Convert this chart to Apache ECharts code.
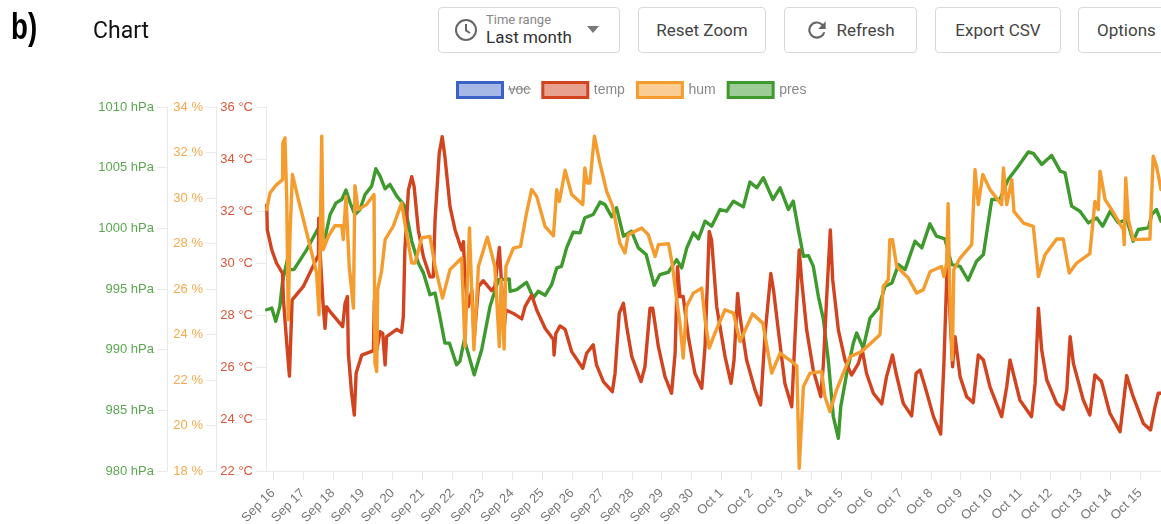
<!DOCTYPE html>
<html>
<head>
<meta charset="utf-8">
<title>Chart</title>
<script src="https://cdn.jsdelivr.net/npm/echarts@6/dist/echarts.min.js"></script>
<style>
  html,body{margin:0;padding:0;background:#fff;overflow:hidden}
  #wrap{position:relative;width:1161px;height:524px;font-family:Roboto,sans-serif;overflow:hidden}
  #chart{position:absolute;left:0;top:0;width:1161px;height:524px}
  .panel{position:absolute;left:0;top:0;z-index:2}
  .tag{position:absolute;left:11px;top:6px;font:bold 36px "Liberation Sans",sans-serif;color:#000;transform:scaleX(.77);transform-origin:left top}
  .title{position:absolute;left:93px;top:17px;font-size:23px;color:#111}
  .btn{position:absolute;top:7px;height:44px;border:1px solid #d8d8d8;border-radius:4px;box-sizing:content-box;color:#444;font-size:17px;line-height:44px;text-align:center;background:#fff}
  .btn svg{position:absolute}
  .small{position:absolute;left:47px;top:5px;font-size:13px;line-height:14px;color:#888}
  .big{position:absolute;left:47px;top:19px;font-size:17px;line-height:20px;color:#333}
</style>
</head>
<body>
<div id="wrap">
  <div id="chart"></div>
  <div class="panel">
    <div class="tag">b)</div>
    <div class="title">Chart</div>
    <div class="btn" style="left:438px;width:180px">
      <svg style="left:15px;top:10px" width="24" height="24" viewBox="0 0 24 24" fill="none" stroke="#666" stroke-width="2"><circle cx="12" cy="12" r="10"/><path d="M12 6v6.5l4 2.5"/></svg>
      <span class="small">Time range</span><span class="big">Last month</span>
      <svg style="left:148px;top:18px" width="12" height="7" viewBox="0 0 12 7"><path d="M0 0h12L6 7z" fill="#777"/></svg>
    </div>
    <div class="btn" style="left:638px;width:126px">Reset Zoom</div>
    <div class="btn" style="left:784px;width:131px;text-indent:30px">
      <svg style="left:19px;top:9px" width="26" height="26" viewBox="0 0 24 24"><path d="M17.6 6.4A8 8 0 1 0 19.7 14h-2.1a6 6 0 1 1-1.4-6.2L13 11h7V4z" fill="#666"/></svg>Refresh</div>
    <div class="btn" style="left:935px;width:124px">Export CSV</div>
    <div class="btn" style="left:1078px;width:110px;text-align:left;text-indent:18px">Options</div>
  </div>
</div>
<script>
// days counted from Sep 16
const dayLabels = ['Sep 16','Sep 17','Sep 18','Sep 19','Sep 20','Sep 21','Sep 22','Sep 23','Sep 24','Sep 25','Sep 26','Sep 27','Sep 28','Sep 29','Sep 30','Oct 1','Oct 2','Oct 3','Oct 4','Oct 5','Oct 6','Oct 7','Oct 8','Oct 9','Oct 10','Oct 11','Oct 12','Oct 13','Oct 14','Oct 15'];

const tempDays = [-0.21,-0.19,-0.04,0.12,0.32,0.35,0.46,0.55,0.60,0.64,1.01,1.52,1.53,1.59,1.68,1.74,1.79,1.96,2.33,2.41,2.49,2.52,2.63,2.72,2.78,2.97,3.36,3.39,3.47,3.58,3.67,3.75,3.80,4.14,4.30,4.36,4.41,4.53,4.64,4.72,4.86,5.03,5.25,5.36,5.42,5.56,5.66,5.75,5.92,6.09,6.31,6.37,6.42,6.53,6.65,6.73,6.87,7.03,7.31,7.42,7.57,7.65,7.73,7.79,8.04,8.32,8.43,8.65,8.82,9.10,9.38,9.40,9.46,9.60,9.77,9.99,10.36,10.49,10.71,10.82,11.05,11.35,11.44,11.58,11.72,11.83,12.0,12.31,12.44,12.61,12.70,12.89,13.11,13.33,13.45,13.53,13.61,13.72,13.89,14.11,14.34,14.45,14.59,14.67,14.84,15.12,15.32,15.42,15.54,15.62,15.84,16.12,16.31,16.46,16.65,16.74,16.90,17.12,17.35,17.46,17.60,17.68,17.85,18.07,18.32,18.41,18.52,18.64,18.72,18.91,19.13,19.35,19.58,19.71,19.85,20.08,20.36,20.52,20.72,20.84,21.08,21.36,21.51,21.64,21.81,22.09,22.33,22.44,22.56,22.64,22.73,22.81,22.98,23.20,23.42,23.59,23.76,23.98,24.37,24.54,24.65,24.76,24.98,25.37,25.49,25.60,25.71,25.88,26.21,26.43,26.55,26.66,26.77,27.10,27.32,27.49,27.71,27.99,28.33,28.55,28.77,29.11,29.35,29.50,29.61,29.70];
const tempValues = [32.23,31.27,30.50,29.99,29.60,28.58,26.91,25.65,27.29,28.58,29.09,30.31,31.72,30.12,28.32,27.49,28.32,28.06,27.55,28.45,28.71,26.53,24.99,24.15,25.76,26.46,26.63,28.58,26.65,27.36,27.29,26.08,27.17,27.45,27.33,27.94,30.50,32.81,33.32,32.94,31.27,30.24,29.47,29.47,31.65,34.22,34.86,34.09,32.17,31.27,30.50,30.82,29.35,28.32,28.96,27.10,29.09,29.32,28.94,29.09,30.60,29.09,27.49,28.19,28.06,27.85,28.32,28.77,28.19,27.49,27.06,26.46,27.29,27.58,27.45,26.59,25.95,26.53,26.85,26.08,25.44,25.05,25.76,28.06,28.45,27.55,26.40,25.44,26.01,28.26,28.26,26.78,25.63,24.99,26.53,29.86,28.71,28.71,27.17,25.76,25.18,26.78,31.21,30.88,28.32,26.40,25.37,26.27,28.83,27.94,26.27,25.12,24.54,27.29,29.60,28.96,27.42,25.37,24.47,27.17,30.50,29.35,27.42,25.88,24.86,26.14,28.71,31.27,29.35,27.42,26.27,25.69,26.14,26.65,25.76,24.99,24.58,25.63,26.46,25.76,24.60,24.12,25.76,25.88,25.24,24.09,23.42,26.14,30.37,28.06,26.01,27.17,25.63,24.86,24.63,26.46,26.27,25.24,24.09,25.24,26.27,25.76,24.73,24.09,25.37,28.26,26.65,25.50,24.60,24.37,25.12,27.17,26.14,24.73,24.15,25.69,25.44,24.22,23.51,25.67,24.86,23.83,23.58,24.47,24.99,24.99];

const humDays = [-0.21,-0.10,0.12,0.32,0.33,0.40,0.46,0.51,0.57,0.65,0.85,1.13,1.46,1.54,1.63,1.68,1.85,2.07,2.30,2.35,2.44,2.55,2.69,2.74,2.85,3.13,3.38,3.41,3.47,3.50,3.63,3.75,4.02,4.30,4.41,4.64,4.75,4.97,5.25,5.42,5.67,5.92,6.31,6.42,6.57,6.72,6.87,7.17,7.42,7.57,7.63,7.73,7.79,8.04,8.28,8.48,8.65,8.82,9.10,9.38,9.49,9.58,9.77,9.99,10.36,10.43,10.51,10.60,10.75,10.93,11.16,11.36,11.60,11.77,11.88,12.33,12.55,12.78,12.89,13.23,13.35,13.50,13.61,13.72,13.83,14.06,14.34,14.45,14.59,14.78,15.12,15.40,15.62,16.04,16.38,16.68,16.96,17.35,17.52,17.60,17.74,17.96,18.35,18.46,18.63,18.85,19.30,19.69,20.30,20.41,20.58,20.63,20.72,20.86,21.25,21.53,21.75,21.98,22.36,22.44,22.53,22.58,22.64,22.72,22.77,22.98,23.37,23.48,23.59,23.74,23.98,24.37,24.43,24.54,24.71,24.78,25.10,25.43,25.60,25.82,26.21,26.43,26.63,26.88,27.32,27.49,27.60,27.66,27.83,28.05,28.44,28.47,28.52,28.61,28.77,29.33,29.44,29.55,29.70];
const humValues = [29.49,30.22,30.59,30.81,32.42,32.64,29.93,24.65,28.46,31.03,29.93,28.46,26.70,24.87,32.72,27.73,28.31,28.78,28.78,28.17,30.07,26.99,25.16,30.54,29.49,29.71,30.15,22.74,22.37,25.97,26.77,28.17,28.75,29.78,28.90,27.14,27.14,28.24,28.31,26.99,25.60,26.85,27.36,23.47,28.68,23.33,26.99,28.28,26.99,23.47,26.41,23.36,26.99,27.80,27.87,29.34,30.37,30.07,28.75,28.34,30.37,29.85,31.22,30.15,29.71,31.32,30.66,30.66,32.72,31.54,30.29,29.63,28.02,27.58,28.39,28.68,28.39,27.43,27.95,27.99,27.14,25.53,24.50,22.96,25.23,25.82,26.04,24.65,23.40,24.06,25.09,24.94,23.69,24.91,24.50,22.30,23.18,22.81,22.60,18.12,21.71,22.30,22.37,21.27,20.61,21.57,23.03,23.25,23.99,26.11,26.41,28.17,28.17,26.99,26.48,25.82,25.97,26.77,26.99,26.55,27.14,29.75,25.67,22.89,26.85,27.36,27.95,31.25,29.71,31.03,30.37,29.71,31.32,29.71,30.81,29.41,28.90,28.75,26.55,27.51,28.20,28.20,26.70,27.14,27.55,29.85,29.49,31.18,29.93,29.49,28.61,27.95,30.88,29.05,28.17,28.20,31.84,31.39,30.37];

const presDays = [-0.21,-0.04,0.09,0.23,0.32,0.48,0.57,0.70,1.13,1.52,1.74,1.91,2.11,2.30,2.44,2.58,2.74,2.91,3.08,3.30,3.44,3.58,3.75,3.91,4.14,4.41,4.64,4.86,5.03,5.25,5.42,5.58,5.75,5.90,6.14,6.25,6.40,6.73,6.98,7.26,7.54,7.90,7.93,8.15,8.48,8.71,8.87,9.10,9.32,9.49,9.65,9.82,10.04,10.27,10.43,10.71,10.94,11.10,11.33,11.49,11.72,11.99,12.22,12.48,12.75,12.94,13.22,13.50,13.67,13.84,14.06,14.23,14.45,14.67,14.95,15.17,15.40,15.73,15.95,16.18,16.40,16.72,16.96,17.24,17.40,17.57,17.74,17.91,18.07,18.24,18.41,18.57,18.74,18.91,18.99,19.19,19.41,19.52,19.74,19.97,20.25,20.47,20.70,20.92,21.14,21.47,21.70,21.97,22.19,22.47,22.70,22.98,23.25,23.53,23.76,24.04,24.31,24.59,24.93,25.26,25.43,25.71,26.04,26.33,26.49,26.71,26.99,27.27,27.55,27.75,28.00,28.27,28.55,28.77,28.94,29.28,29.39,29.55,29.70];
const presValues = [993.29,993.43,992.33,993.57,995.63,997.42,996.60,996.60,998.25,1000.04,999.21,1001.14,1002.10,1002.38,1003.15,1002.10,1001.14,1001.55,1002.79,1003.48,1004.91,1004.30,1003.26,1003.62,1002.65,1001.83,998.94,997.15,996.33,994.53,994.67,992.74,990.54,990.54,988.75,989.03,990.82,987.93,989.99,993.57,995.77,995.83,994.81,994.95,995.55,994.26,994.81,994.48,995.36,996.74,996.87,998.39,999.68,999.63,1000.87,1001.14,1002.16,1001.97,1000.95,1001.69,999.35,999.76,998.39,997.84,995.30,996.19,996.38,997.42,996.74,998.39,999.63,999.13,1000.59,1000.18,1001.55,1001.41,1002.24,1001.77,1003.81,1003.34,1004.17,1002.38,1003.34,1001.55,1002.24,999.90,997.70,997.75,996.87,994.40,992.47,989.17,984.49,982.70,985.31,988.06,990.54,991.37,990.13,992.61,993.43,995.22,995.50,997.01,996.60,998.94,998.39,1000.37,999.35,999.13,997.01,996.87,995.72,997.29,997.84,1002.38,1002.38,1004.03,1005.13,1006.29,1006.18,1005.27,1006.01,1004.72,1004.58,1001.83,1001.41,1000.45,1000.86,1000.18,1001.41,1000.45,1000.73,998.94,999.90,1000.04,1001.14,1001.55,1000.59];

// voc is switched off in the legend, nothing is drawn for it
const vocDays = [];
const vocValues = [];

const colors = { voc:'#3a62c6', temp:'#d1441f', hum:'#f59c2f', pres:'#3e9a2d' };
const fills = { voc:'rgba(58,98,198,.45)', temp:'rgba(209,68,31,.5)', hum:'rgba(245,156,47,.5)', pres:'rgba(62,154,45,.5)' };
const labelColors = { temp:'#d8573a', hum:'#f7a94e', pres:'#5aa84f' };

const zip = (xs, ys) => xs.map((x, i) => [x, ys[i]]);

function yAxis(name, min, max, step, unit, offset){
  return {
    type:'value', name:'', position:'left', offset:offset, min:min, max:max, interval:step,
    axisLine:{show:true, onZero:false, lineStyle:{color:'#e9e9e9', width:1}},
    axisTick:{show:true, length:10, lineStyle:{color:'#e9e9e9'}},
    axisLabel:{margin:13, color:labelColors[name], fontFamily:'Liberation Sans', fontSize:13, formatter:v => v + unit},
    splitLine:{show:false}
  };
}

function lineSeries(name, days, values, axisIdx){
  return {
    name:name, type:'line', yAxisIndex:axisIdx, data:zip(days, values),
    showSymbol:false, symbol:'none', smooth:false, clip:true,
    lineStyle:{color:colors[name], width:3.4, join:'round', cap:'round'},
    itemStyle:{color:colors[name]}, z: name==='hum' ? 4 : (name==='temp' ? 3 : 2)
  };
}

function legendItem(name){
  return { name:name, icon:'rect', itemStyle:{color:fills[name], borderColor:colors[name], borderWidth:3} };
}

const chart = echarts.init(document.getElementById('chart'), null, {renderer:'canvas'});
chart.setOption({
  animation:false,
  grid:{left:266, right:0, top:107, bottom:53, containLabel:false, outerBoundsMode:'none'},
  legend:{
    left:456, top:81, itemWidth:45, itemHeight:15, itemGap:11, padding:0,
    textStyle:{color:'#888', fontFamily:'Liberation Sans', fontSize:14, padding:[0,0,0,1]},
    data:['voc','temp','hum','pres'].map(legendItem)
  },
  graphic:[{ type:'line', silent:true, z:10, shape:{x1:508, y1:89, x2:531, y2:89}, style:{stroke:'#888', lineWidth:1} }],
  xAxis:{
    type:'value', min:-0.234, max:29.7,
    axisLine:{show:true, lineStyle:{color:'#e9e9e9'}},
    axisTick:{show:true, length:9, customValues:dayLabels.map((d, i) => i), lineStyle:{color:'#e9e9e9'}},
    axisLabel:{rotate:45, margin:20, color:'#777', fontFamily:'Liberation Sans', fontSize:13, hideOverlap:false, customValues:dayLabels.map((d, i) => i), formatter:v => dayLabels[v]},
    splitLine:{show:false}
  },
  yAxis:[
    yAxis('temp', 22, 36, 2, ' °C', 0),
    yAxis('hum', 18, 34, 2, ' %', 50),
    yAxis('pres', 980, 1010, 5, ' hPa', 99)
  ],
  series:[
    lineSeries('voc', vocDays, vocValues, 0),
    lineSeries('temp', tempDays, tempValues, 0),
    lineSeries('hum', humDays, humValues, 1),
    lineSeries('pres', presDays, presValues, 2)
  ]
});
</script>
</body>
</html>
